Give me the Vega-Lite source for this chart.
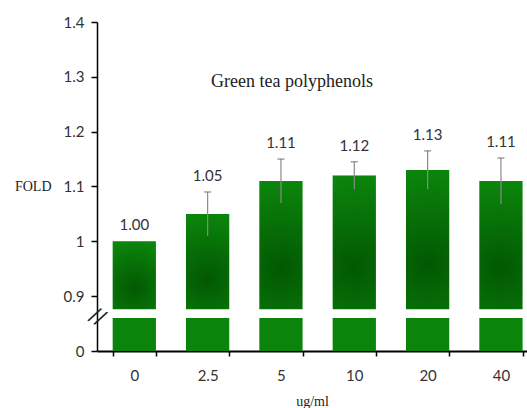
{
  "$schema": "https://vega.github.io/schema/vega-lite/v6.json",
  "width": 430,
  "height": 329,
  "autosize": {"type": "none"},
  "padding": {"left": 97, "top": 22, "right": 0, "bottom": 57},
  "background": "white",
  "config": {"view": {"stroke": null}, "axis": {"grid": false}},
  "title": {
    "text": "Green tea polyphenols",
    "font": "Liberation Serif",
    "fontSize": 18,
    "fontWeight": "normal",
    "color": "#222",
    "anchor": "middle",
    "frame": "group",
    "offset": -76,
    "dx": -20
  },
  "data": {
    "values": [
      {"conc": "0", "value": 1.0, "lo": 1.0, "hi": 1.0},
      {"conc": "2.5", "value": 1.05, "lo": 1.01, "hi": 1.09},
      {"conc": "5", "value": 1.11, "lo": 1.07, "hi": 1.15},
      {"conc": "10", "value": 1.12, "lo": 1.095, "hi": 1.145},
      {"conc": "20", "value": 1.13, "lo": 1.095, "hi": 1.165},
      {"conc": "40", "value": 1.11, "lo": 1.068, "hi": 1.152}
    ]
  },
  "encoding": {
    "x": {
      "field": "conc",
      "type": "nominal",
      "sort": null,
      "scale": {"paddingInner": 0.41, "paddingOuter": 0.137, "align": 0.78},
      "axis": {
        "title": "ug/ml",
        "labelAngle": 0,
        "domainColor": "black",
        "domainWidth": 2,
        "tickColor": "black",
        "tickWidth": 1.5,
        "tickSize": 5,
        "tickBand": "extent",
        "labelFont": "Lato",
        "labelFontSize": 15,
        "labelColor": "#333",
        "labelPadding": 12,
        "titleFont": "Liberation Serif",
        "titleFontSize": 14,
        "titleFontWeight": "normal",
        "titleColor": "#222",
        "titlePadding": 11
      }
    }
  },
  "layer": [
    {
      "mark": {"type": "bar", "color": "#0a840a"},
      "encoding": {
        "y": {
          "datum": 0.86,
          "type": "quantitative",
          "title": "FOLD",
          "scale": {"domain": [0.8, 1.4], "nice": false, "zero": false},
          "axis": {
            "values": [0.8, 0.9, 1, 1.1, 1.2, 1.3, 1.4],
            "format": "~g",
            "labelExpr": "datum.value < 0.85 ? '0' : datum.label",
            "domainColor": "black",
            "domainWidth": 1.5,
            "tickColor": "black",
            "tickWidth": 1.5,
            "tickSize": 6,
            "labelFont": "Lato",
            "labelFontSize": 15,
            "labelColor": "#333",
            "labelPadding": 7,
            "titleAngle": 0,
            "titleFont": "Liberation Serif",
            "titleFontSize": 14,
            "titleFontWeight": "normal",
            "titleColor": "#222",
            "titleAlign": "right",
            "titleBaseline": "middle",
            "titleX": -46,
            "titleY": 164
          }
        },
        "y2": {"datum": 0.8}
      }
    },
    {
      "mark": {
        "type": "bar",
        "fill": {
          "gradient": "radial",
          "x1": 0.5, "y1": 0.68, "r1": 0,
          "x2": 0.5, "y2": 0.68, "r2": 0.72,
          "stops": [
            {"offset": 0, "color": "#025802"},
            {"offset": 1, "color": "#0c880c"}
          ]
        }
      },
      "encoding": {
        "y": {"field": "value", "type": "quantitative", "title": "FOLD"},
        "y2": {"datum": 0.876}
      }
    },
    {
      "transform": [{"filter": "datum.hi > datum.value"}],
      "mark": {"type": "rule", "color": "#8a8a8a", "strokeWidth": 1.2},
      "encoding": {
        "y": {"field": "lo", "type": "quantitative", "title": "FOLD"},
        "y2": {"field": "hi"}
      }
    },
    {
      "transform": [{"filter": "datum.hi > datum.value"}],
      "mark": {"type": "tick", "color": "#777", "size": 7, "thickness": 1.5},
      "encoding": {
        "y": {"field": "hi", "type": "quantitative", "title": "FOLD"}
      }
    },
    {
      "mark": {"type": "text", "font": "Lato", "fontSize": 15, "color": "#333", "baseline": "middle", "dy": -16},
      "encoding": {
        "y": {"field": "hi", "type": "quantitative", "title": "FOLD"},
        "text": {"field": "value", "type": "quantitative", "format": ".2f"}
      }
    },
    {
      "data": {"values": [{"sym": "//"}]},
      "mark": {"type": "text", "fontSize": 21, "color": "#222", "angle": 30, "dx": -32, "dy": 18.5, "align": "center", "baseline": "middle", "font": "DejaVu Sans"},
      "encoding": {
        "x": {"datum": "0"},
        "y": {"datum": 0.862, "type": "quantitative", "title": "FOLD"},
        "text": {"field": "sym"}
      }
    }
  ]
}
